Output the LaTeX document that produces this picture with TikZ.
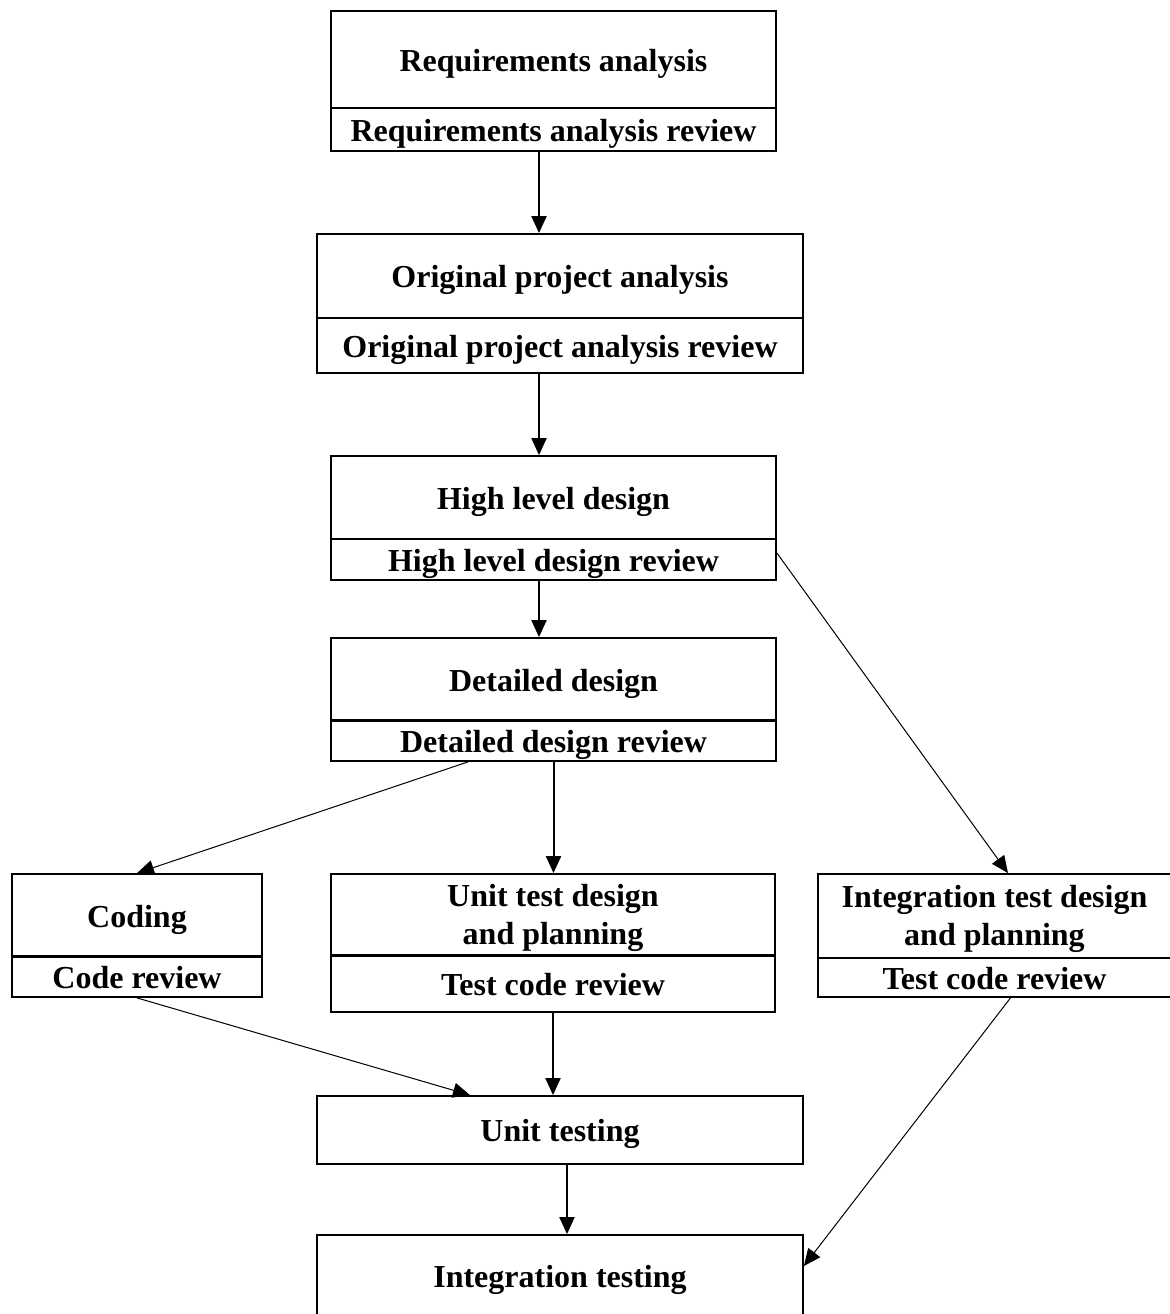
\documentclass[tikz,border=0pt]{standalone}
\usepackage{fontspec}
\setmainfont{Liberation Serif}
\usetikzlibrary{arrows.meta}

\begin{document}
\begin{tikzpicture}[x=0.5pt,y=-0.5pt,
  boxtext/.style={font=\bfseries\fontsize{16}{19}\selectfont, align=center},
  box/.style={draw, line width=0.9pt, inner sep=0pt, boxtext},
  oneline/.style={box, text height=12.5pt, text depth=1pt},
  lowered/.style={boxtext, inner sep=0pt, yshift=-1.5pt},
  flow/.style={line width=1pt, -{Triangle[length=8.5pt,width=7.5pt]}},
  thinflow/.style={line width=0.5pt, -{Triangle[length=8.5pt,width=7.5pt]}},
  rule/.style={line width=1.5pt}]

  \path[use as bounding box, fill=white] (0,0) rectangle (1170,1314);

  % main column
  \node[oneline, minimum width=222.5pt, minimum height=48.5pt] (ra)  at (553.5,59.5)  {Requirements analysis};
  \node[oneline, minimum width=222.5pt, minimum height=21.5pt] (rar) at (553.5,129.5) {Requirements analysis review};

  \node[oneline, minimum width=243pt, minimum height=42pt]   (opa)  at (560,276)   {Original project analysis};
  \node[oneline, minimum width=243pt, minimum height=27.5pt] (opar) at (560,345.5) {Original project analysis review};

  \node[oneline, minimum width=222.5pt, minimum height=41.5pt] (hld)  at (553.5,497.5) {High level design};
  \node[oneline, minimum width=222.5pt, minimum height=20.5pt] (hldr) at (553.5,559.5) {High level design review};

  \node[oneline, minimum width=222.5pt, minimum height=41.5pt] (dd)  at (553.5,679.5) {Detailed design};
  \node[oneline, minimum width=222.5pt, minimum height=20pt]   (ddr) at (553.5,741)   {Detailed design review};
  \draw[rule] (ddr.north west) -- (ddr.north east);

  % second row
  \node[oneline, minimum width=125pt, minimum height=41.5pt] (cod)  at (137,915.5) {Coding};
  \node[oneline, minimum width=125pt, minimum height=20pt]   (codr) at (137,977)   {Code review};
  \draw[rule] (codr.north west) -- (codr.north east);

  \node[box, minimum width=222pt, minimum height=41pt,
        label={[lowered]center:{Unit test design\\and planning}}] (utd) at (553,915) {};
  \node[oneline, minimum width=222pt, minimum height=28pt] (utdr) at (553,984) {Test code review};
  \draw[rule] (utdr.north west) -- (utdr.north east);

  \node[box, minimum width=176.5pt, minimum height=42pt,
        label={[lowered]center:{Integration test design\\and planning}}] (itd) at (994.5,916) {};
  \node[oneline, minimum width=176.5pt, minimum height=19.5pt] (itdr) at (994.5,977.5) {Test code review};

  % testing stages
  \node[oneline, minimum width=243pt, minimum height=34pt] (ut) at (560,1130) {Unit testing};
  \node[oneline, minimum width=243pt, minimum height=41pt] (it) at (560,1276) {Integration testing};

  % connector end points off the box centres
  \coordinate (rarOut)  at ([xshift=-7.25pt]rar.south);
  \coordinate (oparOut) at ([xshift=-10.5pt]opar.south);
  \coordinate (hldrOut) at ([xshift=-7.25pt]hldr.south);
  \coordinate (hldrSide) at ([yshift=3.25pt]hldr.east);
  \coordinate (ddrLeft) at ([xshift=-42.75pt]ddr.south);
  \coordinate (itdIn)   at ([xshift=6.75pt]itd.north);
  \coordinate (utIn)    at ([xshift=-45pt]ut.north);
  \coordinate (utOut)   at ([xshift=3.5pt]ut.south);
  \coordinate (itdrOut) at ([xshift=8pt]itdr.south);
  \coordinate (itIn)    at ([yshift=5pt]it.east);

  % connectors
  \draw[flow] (rarOut)  -- (rarOut |- opa.north);
  \draw[flow] (oparOut) -- (oparOut |- hld.north);
  \draw[flow] (hldrOut) -- (hldrOut |- dd.north);
  \draw[flow] (ddr.south) -- (ddr.south |- utd.north);
  \draw[thinflow] (ddrLeft) -- (cod.north);
  \draw[thinflow] (hldrSide) -- (itdIn);
  \draw[thinflow] (codr.south) -- (utIn);
  \draw[flow] (utdr.south) -- (utdr.south |- ut.north);
  \draw[flow] (utOut) -- (utOut |- it.north);
  \draw[thinflow] (itdrOut) -- (itIn);
\end{tikzpicture}
\end{document}
